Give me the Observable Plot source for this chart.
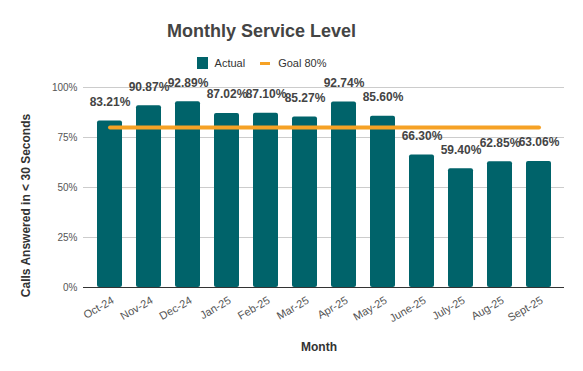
<!DOCTYPE html>
<html>
<head>
<meta charset="utf-8">
<script src="https://cdn.jsdelivr.net/npm/d3@7"></script>
<script src="https://cdn.jsdelivr.net/npm/@observablehq/plot@0.6"></script>
<style>
  body { margin: 0; background: #fff; font-family: "Liberation Sans", Arial, sans-serif; }
  #wrap { width: 583px; height: 371px; position: relative; overflow: hidden; }
  #header { position: relative; width: 523px; height: 75px; }
  #title { position: absolute; top: 20px; left: 0; width: 523px; text-align: center; font-size: 18px; font-weight: bold; color: #444; line-height: 22px; }
  #legend { position: absolute; top: 55px; left: 0; width: 523px; text-align: center; font-size: 11px; color: #333; line-height: 14px; }
  .sw { display: inline-block; vertical-align: middle; }
  .lab { vertical-align: middle; }
</style>
</head>
<body>
<div id="wrap">
  <div id="header">
    <div id="title">Monthly Service Level</div>
    <div id="legend"></div>
  </div>
  <div id="chart"></div>
</div>
<script>
const months = ["Oct-24","Nov-24","Dec-24","Jan-25","Feb-25","Mar-25","Apr-25","May-25","June-25","July-25","Aug-25","Sept-25"];
const actual = [83.21, 90.87, 92.89, 87.02, 87.10, 85.27, 92.74, 85.60, 66.30, 59.40, 62.85, 63.06];
const goal = 80;
const yTicks = [0, 25, 50, 75, 100];
const seriesNames = ["Actual", "Goal 80%"];
const barColor = "#00636a";
const goalColor = "#f6a225";

const data = months.map((m, i) => ({month: m, value: actual[i], goal}));

const legend = document.getElementById("legend");
legend.innerHTML =
  `<span class="sw" style="width:11px;height:12px;background:${barColor};margin-right:7px"></span><span class="lab">${seriesNames[0]}</span>` +
  `<span class="sw" style="width:10px;height:3px;background:${goalColor};margin-left:15px;margin-right:8px"></span><span class="lab">${seriesNames[1]}</span>`;

const chart = Plot.plot({
  width: 583,
  height: 296,
  marginLeft: 83,
  marginRight: 19,
  marginTop: 12,
  marginBottom: 84,
  style: {fontFamily: "'Liberation Sans', Arial, sans-serif", background: "#fff"},
  x: {domain: months, paddingInner: 0.36, paddingOuter: 0.34, label: null},
  y: {domain: [0, 100], label: null},
  marks: [
    Plot.gridY(yTicks, {stroke: "#cccccc", strokeOpacity: 1}),
    Plot.axisY(yTicks, {tickSize: 0, tickPadding: 6, tickFormat: d => d + "%", fontSize: 10, fill: "#555", label: null}),
    Plot.barY(data, {x: "month", y: "value", fill: barColor, rx: 2}),
    Plot.ruleY([0], {stroke: "#333"}),
    Plot.lineY(data, {x: "month", y: "goal", stroke: goalColor, strokeWidth: 4}),
    Plot.text(data, {x: "month", y: "value", text: d => d.value.toFixed(2) + "%", dy: -19, fontWeight: "bold", fontSize: 12, fill: "#444"}),
    Plot.axisX({tickSize: 0, tickPadding: 6, tickRotate: -30, fontSize: 11, fill: "#555", label: null, dx: 3, dy: 6}),
    Plot.text(["Calls Answered in < 30 Seconds"], {frameAnchor: "left", dx: -57, dy: 18, rotate: -90, textAnchor: "middle", lineAnchor: "middle", fontWeight: "bold", fontSize: 12, fill: "#333"}),
    Plot.text(["Month"], {frameAnchor: "bottom", dx: -5, dy: 60, lineAnchor: "middle", fontWeight: "bold", fontSize: 12, fill: "#333"})
  ]
});
document.getElementById("chart").appendChild(chart);
</script>
</body>
</html>
